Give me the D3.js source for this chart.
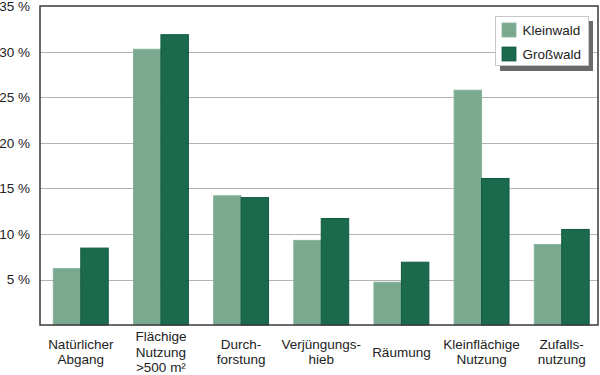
<!DOCTYPE html>
<html>
<head>
<meta charset="utf-8">
<script src="https://cdn.jsdelivr.net/npm/d3@7"></script>
<style>
  body { margin: 0; background: #fff; }
  svg text { font-family: "Liberation Sans", Arial, sans-serif; fill: #222; }
</style>
</head>
<body>
<div id="chart"></div>
<script>
// data
const categories = [
  ["Natürlicher", "Abgang"],
  ["Flächige", "Nutzung", ">500 m²"],
  ["Durch-", "forstung"],
  ["Verjüngungs-", "hieb"],
  ["Räumung"],
  ["Kleinflächige", "Nutzung"],
  ["Zufalls-", "nutzung"]
];
const seriesNames = ["Kleinwald", "Großwald"];
const kleinwald = [6.2, 30.3, 14.2, 9.3, 4.7, 25.8, 8.85];
const grosswald = [8.45, 31.9, 14.0, 11.7, 6.9, 16.1, 10.5];
const yTicks = [5, 10, 15, 20, 25, 30, 35];
const colors = ["#7aa990", "#1c6a4d"];
const strokes = ["#86b39b", "#0f5a3d"];

const width = 600, height = 375;
const frame = { left: 40, top: 6, right: 598, bottom: 325 };

const svg = d3.select("#chart").append("svg")
  .attr("width", width)
  .attr("height", height);

const y = d3.scaleLinear().domain([0, 35]).range([frame.bottom, frame.top + 0.5]);

const x = d3.scaleBand()
  .domain(d3.range(categories.length))
  .range([40.7, 601.8])
  .paddingInner(0.315)
  .paddingOuter(0.1575);

const xs = d3.scaleBand()
  .domain([0, 1])
  .range([0, x.bandwidth()]);

// gridlines
svg.append("g")
  .selectAll("line")
  .data(yTicks.filter(t => t < 35))
  .enter()
  .append("line")
  .attr("x1", frame.left)
  .attr("x2", frame.right)
  .attr("y1", d => Math.round(y(d)) + 0.5)
  .attr("y2", d => Math.round(y(d)) + 0.5)
  .attr("stroke", "#b4b4b4")
  .attr("stroke-width", 1);

// bars
const series = [kleinwald, grosswald];
const groups = svg.append("g")
  .selectAll("g")
  .data(categories)
  .enter()
  .append("g")
  .attr("transform", (d, i) => `translate(${x(i)},0)`);

groups.selectAll("rect")
  .data((d, i) => series.map((s, k) => ({ k: k, v: s[i] })))
  .enter()
  .append("rect")
  .attr("x", d => xs(d.k))
  .attr("width", xs.bandwidth())
  .attr("y", d => y(d.v))
  .attr("height", d => y(0) - y(d.v))
  .attr("fill", d => colors[d.k])
  .attr("stroke", d => strokes[d.k])
  .attr("stroke-width", 1);

// frame
svg.append("rect")
  .attr("x", frame.left)
  .attr("y", frame.top)
  .attr("width", frame.right - frame.left)
  .attr("height", frame.bottom - frame.top)
  .attr("fill", "none")
  .attr("stroke", "#3a3a3a")
  .attr("stroke-width", 1.5);

// y tick labels
svg.append("g")
  .selectAll("text")
  .data(yTicks)
  .enter()
  .append("text")
  .attr("x", 30)
  .attr("y", d => y(d) + 4.5)
  .attr("text-anchor", "end")
  .style("font-size", "13.5px")
  .text(d => d + " %");

// x labels
const lineH = 15.5;
const labels = svg.append("g")
  .selectAll("text")
  .data(categories)
  .enter()
  .append("text")
  .attr("text-anchor", "middle")
  .style("font-size", "13.5px");

labels.each(function (lines, i) {
  const t = d3.select(this);
  const cx = x(i) + x.bandwidth() / 2;
  const startY = 352 + 4.5 - (lines.length - 1) * lineH / 2;
  lines.forEach((ln, j) => {
    t.append("tspan")
      .attr("x", cx)
      .attr("y", startY + j * lineH)
      .text(ln);
  });
});

// legend
const legend = svg.append("g");
legend.append("rect")
  .attr("x", 500).attr("y", 21)
  .attr("width", 93).attr("height", 50)
  .attr("fill", "#6a6a6a");
legend.append("rect")
  .attr("x", 495.5).attr("y", 16.5)
  .attr("width", 93).attr("height", 49)
  .attr("fill", "#fff")
  .attr("stroke", "#c8c8c8")
  .attr("stroke-width", 1);

const items = legend.selectAll("g.item")
  .data(seriesNames)
  .enter()
  .append("g")
  .attr("class", "item")
  .attr("transform", (d, i) => `translate(502,${23 + i * 24})`);

items.append("rect")
  .attr("width", 14)
  .attr("height", 14)
  .attr("fill", (d, i) => colors[i])
  .attr("stroke", (d, i) => strokes[i])
  .attr("stroke-width", 0.8);

items.append("text")
  .attr("x", 20.5)
  .attr("y", 12)
  .style("font-size", "13.5px")
  .text(d => d);
</script>
</body>
</html>
